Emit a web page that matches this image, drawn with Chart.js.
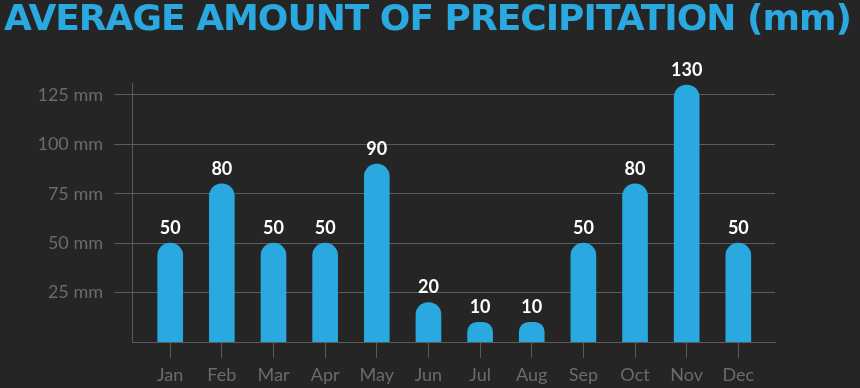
<!DOCTYPE html>
<html>
<head>
<meta charset="utf-8">
<script src="https://cdn.jsdelivr.net/npm/chart.js@4.4.0/dist/chart.umd.min.js"></script>
<style>
  html, body { margin: 0; padding: 0; background: #252525; }
  #wrap { position: relative; width: 860px; height: 388px; }
  .chart-tit {
    position: absolute; left: 4px; top: 0; margin: 0;
    font: bold 36px/1 'DejaVu Sans', sans-serif;
    letter-spacing: -1px;
    color: #2aa8e0; white-space: nowrap;
  }
</style>
</head>
<body>
<div id="wrap">
  <h1 class="chart-tit">AVERAGE AMOUNT OF PRECIPITATION (mm)</h1>
  <canvas id="rain-chart"></canvas>
</div>
<script>
// monthly precipitation (mm)
const months = ['Jan', 'Feb', 'Mar', 'Apr', 'May', 'Jun', 'Jul', 'Aug', 'Sep', 'Oct', 'Nov', 'Dec'];
const precipitation = [50, 80, 50, 50, 90, 20, 10, 10, 50, 80, 130, 50];
const yTicks = [25, 50, 75, 100, 125];

const BLUE = '#2aa8e0';
const GRID = '#5c5c5c';
const LABEL = '#6b6b6b';

// value labels above each bar
const valueLabels = {
  id: 'valueLabels',
  afterDatasetsDraw(chart) {
    const ctx = chart.ctx;
    const meta = chart.getDatasetMeta(0);
    ctx.save();
    ctx.fillStyle = '#ffffff';
    ctx.font = 'bold 18px Lato';
    ctx.textAlign = 'center';
    ctx.textBaseline = 'bottom';
    meta.data.forEach((bar, i) => {
      ctx.fillText(String(precipitation[i]), bar.x, bar.y - 6);
    });
    ctx.restore();
  }
};

const points = precipitation.map((v, i) => ({ x: i, y: v }));

new Chart(document.getElementById('rain-chart'), {
  type: 'bar',
  data: {
    datasets: [{
      data: points,
      backgroundColor: BLUE,
      barThickness: 25,
      borderRadius: { topLeft: 13, topRight: 13 },
      borderSkipped: 'bottom'
    }]
  },
  options: {
    responsive: true,
    maintainAspectRatio: false,
    animation: false,
    layout: { padding: { left: 4, right: 85, top: 83, bottom: 0 } },
    plugins: {
      legend: { display: false },
      tooltip: { enabled: false },
      title: { display: false }
    },
    scales: {
      x: {
        type: 'linear',
        offset: false,
        min: -0.74,
        max: 11.71,
        border: { color: GRID, width: 1 },
        grid: {
          offset: false, drawOnChartArea: false, drawTicks: true,
          tickLength: 16, color: GRID, tickColor: GRID, tickWidth: 1
        },
        afterBuildTicks: (axis) => {
          axis.ticks = months.map((m, i) => ({ value: i }));
        },
        afterFit: (axis) => { axis.height = 46; },
        ticks: {
          color: LABEL,
          font: { family: 'Lato', size: 18 },
          padding: 6,
          autoSkip: false,
          maxRotation: 0,
          callback: (v) => months[v]
        }
      },
      y: {
        min: 0,
        max: 131,
        border: { color: GRID, width: 1 },
        grid: { color: GRID, tickLength: 18 },
        afterBuildTicks: (axis) => {
          axis.ticks = yTicks.map(v => ({ value: v }));
        },
        afterFit: (axis) => { axis.width = 128; },
        ticks: {
          color: LABEL,
          font: { family: 'Lato', size: 18 },
          padding: 11,
          callback: (v) => v + ' mm'
        }
      }
    }
  },
  plugins: [valueLabels]
});
</script>
</body>
</html>
